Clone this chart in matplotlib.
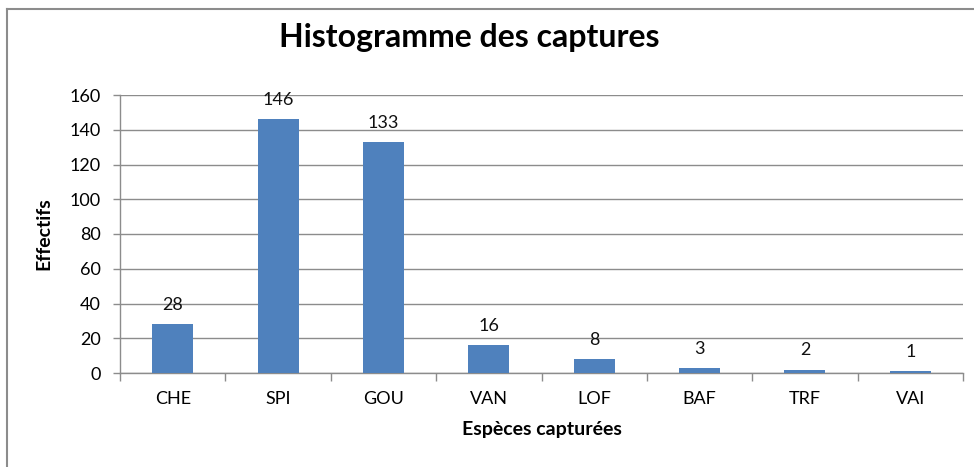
import matplotlib
matplotlib.use('Agg')
import matplotlib.pyplot as plt
from matplotlib.lines import Line2D
import numpy as np

# data
especes = ['CHE', 'SPI', 'GOU', 'VAN', 'LOF', 'BAF', 'TRF', 'VAI']
effectifs = [28, 146, 133, 16, 8, 3, 2, 1]
yticks = [0, 20, 40, 60, 80, 100, 120, 140, 160]

plt.rcParams['font.family'] = ['Lato', 'DejaVu Sans']

fig = plt.figure(figsize=(9.74, 4.67), dpi=100)
ax = fig.add_axes([120 / 974, 1 - 373 / 467, (963 - 120) / 974, (373 - 95) / 467])

x = np.arange(len(especes))
bars = ax.bar(x, effectifs, width=0.39, color='#4F81BD', zorder=3)
for xi, v in zip(x, effectifs):
    ax.annotate(str(v), (xi, v), xytext=(0, 8), textcoords='offset points',
                ha='center', va='bottom', fontsize=13, color='#111111')

ax.set_xlim(-0.5, len(especes) - 0.5)
ax.set_ylim(0, 160)
ax.set_yticks(yticks)
ax.yaxis.grid(True, color='#8c8c8c', linewidth=1, zorder=0)

# category labels centred, tick marks between categories
ax.set_xticks(x)
ax.set_xticklabels(especes, fontsize=13)
ax.tick_params(axis='x', length=0, pad=13)
ax.set_xticks(np.arange(-0.5, len(especes)), minor=True)
ax.tick_params(axis='x', which='minor', length=6, color='#8c8c8c', width=1)
ax.tick_params(axis='y', labelsize=13, length=5, color='#8c8c8c', width=1, pad=9)

for side in ['top', 'right']:
    ax.spines[side].set_visible(False)
for side in ['left', 'bottom']:
    ax.spines[side].set_color('#8c8c8c')
    ax.spines[side].set_linewidth(1)

ax.set_ylabel('Effectifs', fontsize=14, fontweight='bold', labelpad=12)
ax.set_xlabel('Espèces capturées', fontsize=14, fontweight='bold', labelpad=10)

fig.text(469 / 974, 1 - 38 / 467, 'Histogramme des captures', ha='center', va='center',
         fontsize=23, fontweight='bold')

# chart frame (only top and left edges visible in the crop)
fig.add_artist(Line2D([7 / 974, 7 / 974], [0, 1 - 9 / 467], transform=fig.transFigure,
                      color='#8c8c8c', linewidth=1.5))
fig.add_artist(Line2D([7 / 974, 1], [1 - 9 / 467, 1 - 9 / 467], transform=fig.transFigure,
                      color='#8c8c8c', linewidth=1.5))

fig.savefig('out.png', dpi=100, facecolor='white')
